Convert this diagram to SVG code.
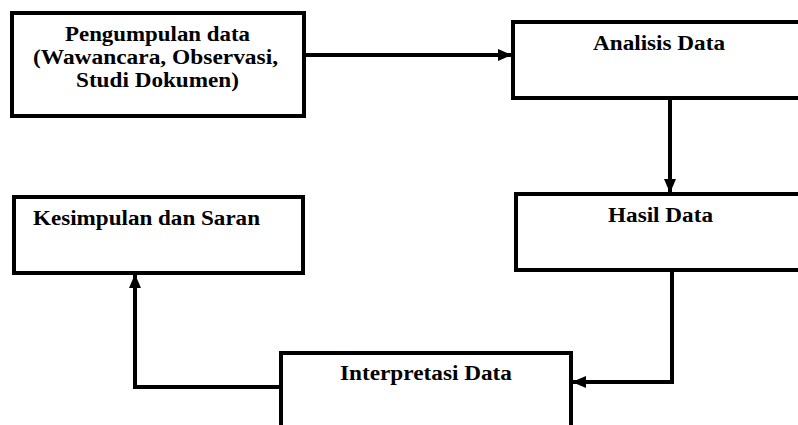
<svg xmlns="http://www.w3.org/2000/svg" width="798" height="425" viewBox="0 0 798 425">
<style>
.box{fill:#fff;stroke:#000;stroke-width:4}
.t{font-family:"Liberation Serif","Times New Roman",serif;font-weight:bold;font-size:20px;fill:#000}
.c{fill:none;stroke:#000;stroke-width:4}
</style>
<defs>
<marker id="ah" markerUnits="userSpaceOnUse" markerWidth="14" markerHeight="12" refX="13" refY="6" orient="auto">
<path d="M0,0 L14,6 L0,12 Z" fill="#000"/>
</marker>
</defs>
<rect width="798" height="425" fill="#fff"/>
<g id="n1">
<rect class="box" x="12" y="13" width="292" height="103"/>
<text class="t" x="65" y="41" textLength="185" lengthAdjust="spacingAndGlyphs">Pengumpulan data</text>
<text class="t" x="33" y="64" textLength="245" lengthAdjust="spacingAndGlyphs">(Wawancara, Observasi,</text>
<text class="t" x="76" y="87" textLength="163" lengthAdjust="spacingAndGlyphs">Studi Dokumen)</text>
</g>
<g id="n2">
<rect class="box" x="513" y="22" width="290" height="76"/>
<text class="t" x="593" y="50" textLength="132" lengthAdjust="spacingAndGlyphs">Analisis Data</text>
</g>
<g id="n3">
<rect class="box" x="516" y="194" width="290" height="76"/>
<text class="t" x="608" y="222" textLength="105" lengthAdjust="spacingAndGlyphs">Hasil Data</text>
</g>
<g id="n4">
<rect class="box" x="14" y="197" width="289" height="76"/>
<text class="t" x="33" y="225" textLength="227" lengthAdjust="spacingAndGlyphs">Kesimpulan dan Saran</text>
</g>
<g id="n5">
<rect class="box" x="281" y="353" width="290" height="80"/>
<text class="t" x="340" y="380" textLength="172" lengthAdjust="spacingAndGlyphs">Interpretasi Data</text>
</g>
<g id="connectors">
<path class="c" d="M304,55 L511,55" marker-end="url(#ah)"/>
<path class="c" d="M670,98 L670,192" marker-end="url(#ah)"/>
<path class="c" d="M672,270 L672,382 L573,382" marker-end="url(#ah)"/>
<path class="c" d="M281,387 L135,387 L135,275" marker-end="url(#ah)"/>
</g>
</svg>
